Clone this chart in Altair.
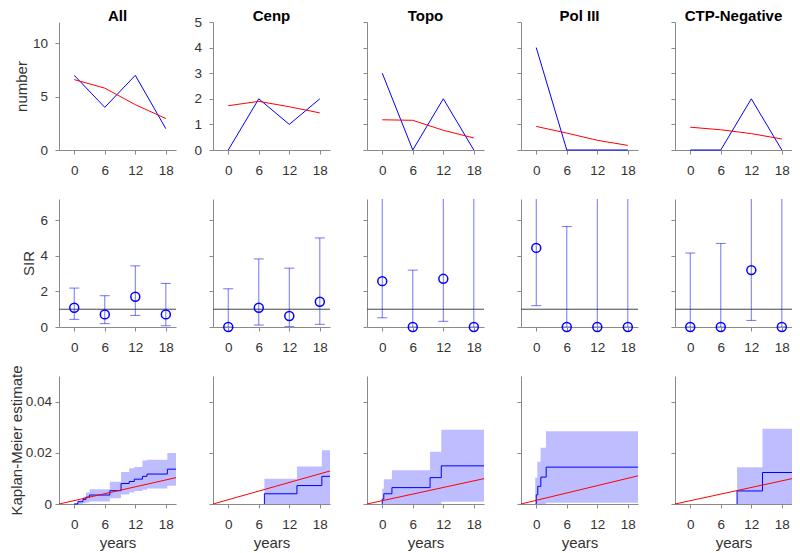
import altair as alt
import pandas as pd

FONT = "Liberation Sans"
BLUE = "#0000ff"
RED = "#ff0000"
GRAY = "#8a8a8a"

GROUPS = ["All", "Cenp", "Topo", "Pol III", "CTP-Negative"]
YEARS = [0, 6, 12, 18]
XDOM = [-3, 20]

# ---------- row 1: observed vs expected numbers ----------
obs_all = [7, 4, 7, 2]
obs_cenp = [0, 2, 1, 2]
obs_topo = [3, 0, 2, 0]
obs_pol3 = [4, 0, 0, 0]
obs_ctpn = [0, 0, 2, 0]
exp_all = [6.6, 5.8, 4.25, 2.95]
exp_cenp = [1.73, 1.9, 1.69, 1.45]
exp_topo = [1.18, 1.16, 0.77, 0.47]
exp_pol3 = [0.92, 0.66, 0.38, 0.18]
exp_ctpn = [0.89, 0.79, 0.64, 0.43]

# ---------- row 2: SIR with confidence intervals ----------
sir_all = [1.08, 0.71, 1.70, 0.71]
sir_lo_all = [0.43, 0.19, 0.65, 0.07]
sir_hi_all = [2.19, 1.76, 3.44, 2.45]
sir_cenp = [0.0, 1.08, 0.62, 1.42]
sir_lo_cenp = [0.0, 0.11, 0.02, 0.15]
sir_hi_cenp = [2.15, 3.83, 3.31, 5.01]
sir_topo = [2.58, 0.0, 2.71, 0.0]
sir_lo_topo = [0.52, 0.0, 0.32, 0.0]
sir_hi_topo = [7.4, 3.2, 9.4, 7.9]
sir_pol3 = [4.45, 0.0, 0.0, 0.0]
sir_lo_pol3 = [1.2, 0.0, 0.0, 0.0]
sir_hi_pol3 = [11.1, 5.65, 9.7, 20.5]
sir_ctpn = [0.0, 0.0, 3.2, 0.0]
sir_lo_ctpn = [0.0, 0.0, 0.37, 0.0]
sir_hi_ctpn = [4.16, 4.7, 11.3, 8.6]
SIR_REF = [1]

# ---------- row 3: Kaplan-Meier estimates ----------
km_t_all = [0, 0.7, 1.7, 2.3, 3.0, 7.0, 9.2, 10.8, 11.8, 13.4, 14.3, 18.3, 20]
km_v_all = [0, 0.0009, 0.0018, 0.0027, 0.0035, 0.0052, 0.0080, 0.0088, 0.0097, 0.0108, 0.0117, 0.0136, 0.0136]
band_t_all = [0, 0.7, 1.7, 2.3, 3.0, 7.0, 9.2, 10.8, 11.8, 13.4, 14.3, 18.3, 20]
band_lo_all = [0, 0, 0.0003, 0.0006, 0.0010, 0.0022, 0.0037, 0.0045, 0.0051, 0.0056, 0.0061, 0.0071, 0.0071]
band_hi_all = [0.0004, 0.0015, 0.0028, 0.0045, 0.0058, 0.0087, 0.0125, 0.0140, 0.0145, 0.0170, 0.0173, 0.0199, 0.0199]
red_t = [-3, 20]
red_all = [0, 0.0103]

km_t_cenp = [7.1, 7.1, 13.5, 18.4, 20]
km_v_cenp = [0, 0.0040, 0.0072, 0.0108, 0.0108]
band_t_cenp = [7.1, 13.5, 18.4, 20]
band_lo_cenp = [0, 0, 0, 0]
band_hi_cenp = [0.0099, 0.0146, 0.0210, 0.0210]
red_cenp = [0, 0.0129]

km_t_topo = [0, 0, 0.3, 1.9, 9.4, 11.6, 20]
km_v_topo = [0, 0.0019, 0.0040, 0.0064, 0.0103, 0.0149, 0.0149]
band_t_topo = [0, 0.3, 1.9, 9.4, 11.6, 20]
band_lo_topo = [0, 0, 0, 0, 0.0009, 0.0009]
band_hi_topo = [0.0060, 0.0097, 0.0132, 0.0204, 0.0290, 0.0290]
red_topo = [0, 0.0099]

km_t_pol3 = [0, 0, 0.3, 0.9, 1.95, 20]
km_v_pol3 = [0, 0.0036, 0.0069, 0.0105, 0.0144, 0.0144]
band_t_pol3 = [-0.2, 0.2, 0.85, 1.9, 20]
band_lo_pol3 = [0, 0, 0, 0.0005, 0.0005]
band_hi_pol3 = [0.0103, 0.0165, 0.0220, 0.0284, 0.0284]
red_pol3 = [0, 0.0110]

km_t_ctpn = [9.2, 9.2, 14.2, 20]
km_v_ctpn = [0, 0.0051, 0.0123, 0.0123]
band_t_ctpn = [9.2, 14.2, 20]
band_lo_ctpn = [0, 0, 0]
band_hi_ctpn = [0.0144, 0.0294, 0.0294]
red_ctpn = [0, 0.0099]

OBS = [obs_all, obs_cenp, obs_topo, obs_pol3, obs_ctpn]
EXP = [exp_all, exp_cenp, exp_topo, exp_pol3, exp_ctpn]
SIR = [(sir_all, sir_lo_all, sir_hi_all), (sir_cenp, sir_lo_cenp, sir_hi_cenp),
       (sir_topo, sir_lo_topo, sir_hi_topo), (sir_pol3, sir_lo_pol3, sir_hi_pol3),
       (sir_ctpn, sir_lo_ctpn, sir_hi_ctpn)]
KM = [(km_t_all, km_v_all, band_t_all, band_lo_all, band_hi_all, red_all),
      (km_t_cenp, km_v_cenp, band_t_cenp, band_lo_cenp, band_hi_cenp, red_cenp),
      (km_t_topo, km_v_topo, band_t_topo, band_lo_topo, band_hi_topo, red_topo),
      (km_t_pol3, km_v_pol3, band_t_pol3, band_lo_pol3, band_hi_pol3, red_pol3),
      (km_t_ctpn, km_v_ctpn, band_t_ctpn, band_lo_ctpn, band_hi_ctpn, red_ctpn)]

# layout (pixels)
W, H = 117, 128
COL_GAP, ROW_GAP = 37, 49
PAD_L, PAD_T = 51, 14
SVG_W, SVG_H = 784, 545

AX = dict(tickSize=4, domainColor=GRAY, tickColor=GRAY,
          labelColor="#333333", labelFontSize=13.5, labelFont=FONT,
          titleFont=FONT, titleFontSize=15, titleColor="#333333",
          titleFontWeight="normal", grid=False)


def x_enc(field, title=None):
    extra = {}
    if title:
        extra = dict(titleBaseline="alphabetic", titleY=43, titleX=W / 2, titleAlign="center")
    return alt.X(field + ":Q", scale=alt.Scale(domain=XDOM, nice=False, zero=False),
                 axis=alt.Axis(values=YEARS, title=title, labelPadding=9, **extra, **AX))


def y_enc(field, domain, values, labels, title, tx, fmt, lpad):
    extra = {}
    if title:
        extra = dict(titleBaseline="alphabetic", titleX=tx, titleY=H / 2,
                     titleAlign="center", titleAngle=270)
    return alt.Y(field + ":Q", scale=alt.Scale(domain=domain, nice=False, zero=False),
                 axis=alt.Axis(values=values, labels=labels, title=title, format=fmt,
                               labelPadding=lpad, **extra, **AX))


cells = []

# row 1
for i, g in enumerate(GROUPS):
    df = pd.DataFrame({"t": YEARS * 2, "v": OBS[i] + EXP[i],
                       "s": ["observed"] * 4 + ["expected"] * 4})
    if i == 0:
        dom, vals, lab, tit = [0, 12], [0, 5, 10], True, "number"
    else:
        dom, vals, lab, tit = [0, 5], [0, 1, 2, 3, 4, 5], (i == 1), None
    lines = alt.Chart(df).mark_line(strokeWidth=1).encode(
        x=x_enc("t"),
        y=y_enc("v", dom, vals, lab, tit, -33, "d", 7.5),
        color=alt.Color("s:N", scale=alt.Scale(domain=["observed", "expected"], range=[BLUE, RED]), legend=None),
    )
    head = alt.Chart(pd.DataFrame({"label": [g]})).mark_text(
        font=FONT, fontSize=15, fontWeight="bold", color="black",
        align="center", baseline="alphabetic").encode(
        text="label:N", x=alt.value(W / 2), y=alt.value(-1))
    cells.append(alt.layer(lines, head).properties(width=W, height=H))

# row 2
for i, g in enumerate(GROUPS):
    s, lo, hi = SIR[i]
    df = pd.DataFrame({"t": YEARS, "v": s, "lo": lo, "hi": hi})
    lab = i == 0
    tit = "SIR" if i == 0 else None
    yv = lambda f: y_enc(f, [0, 7.2], [0, 2, 4, 6], lab, tit, -26, "d", 7.5)
    ref = alt.Chart(pd.DataFrame({"v": SIR_REF})).mark_rule(color="#444444", strokeWidth=1).encode(
        y=yv("v"))
    bars = alt.Chart(df).mark_rule(color=BLUE, opacity=0.55, strokeWidth=1, clip=True).encode(
        x=x_enc("t"), y=yv("lo"), y2="hi:Q")
    cap_lo = alt.Chart(df).mark_tick(color=BLUE, opacity=0.55, thickness=1, size=10,
                                     orient="horizontal", clip=True).encode(x=x_enc("t"), y=yv("lo"))
    cap_hi = alt.Chart(df).mark_tick(color=BLUE, opacity=0.55, thickness=1, size=10,
                                     orient="horizontal", clip=True).encode(x=x_enc("t"), y=yv("hi"))
    pts = alt.Chart(df).mark_point(shape="circle", filled=False, size=80, strokeWidth=1.5,
                                   color=BLUE, opacity=1).encode(x=x_enc("t"), y=yv("v"))
    cells.append(alt.layer(ref, bars, cap_lo, cap_hi, pts).properties(width=W, height=H))

# row 3
for i, g in enumerate(GROUPS):
    kt, kv, bt, blo, bhi, red = KM[i]
    lab = i == 0
    tit = "Kaplan-Meier estimate" if i == 0 else None
    yv = lambda f: y_enc(f, [0, 0.05], [0, 0.02, 0.04], lab, tit, -37.3, "~g", 3.5)
    band = alt.Chart(pd.DataFrame({"t": bt, "lo": blo, "hi": bhi})).mark_area(
        interpolate="step-after", color=BLUE, opacity=0.26).encode(
        x=x_enc("t", "years"), y=yv("lo"), y2="hi:Q")
    km = alt.Chart(pd.DataFrame({"t": kt, "v": kv})).mark_line(
        interpolate="step-after", color=BLUE, strokeWidth=1).encode(
        x=x_enc("t", "years"), y=yv("v"))
    rl = alt.Chart(pd.DataFrame({"t": red_t, "v": red})).mark_line(
        color=RED, strokeWidth=1).encode(x=x_enc("t", "years"), y=yv("v"))
    cells.append(alt.layer(band, km, rl).properties(width=W, height=H))

chart = alt.concat(
    *cells, columns=5, spacing={"row": ROW_GAP, "column": COL_GAP}, bounds="flush"
).properties(
    autosize=alt.AutoSizeParams(type="none"),
    padding={"left": PAD_L, "top": PAD_T, "right": SVG_W - PAD_L, "bottom": SVG_H - PAD_T},
).configure_view(stroke=None)

chart.save("out.html", embed_options={"renderer": "svg", "actions": False})
